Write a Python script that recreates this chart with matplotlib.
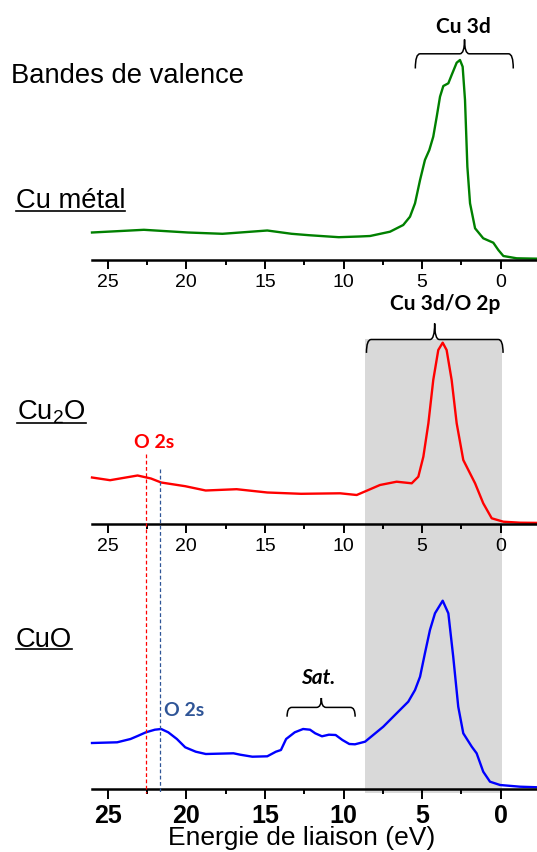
import matplotlib.pyplot as plt
import matplotlib.transforms as mtransforms
from matplotlib.lines import Line2D
from matplotlib.patches import PathPatch, Rectangle
from matplotlib.path import Path

W, H, DPI = 537, 852, 100

# binding energy (eV) / intensity (a.u.)
cu_energy = [26.0, 22.7, 19.9, 17.7, 14.85, 13.3, 12.2, 10.3, 9.0, 8.31, 7.04, 6.2,
             5.77, 5.45, 5.13, 4.82, 4.54, 4.29, 4.07, 3.86, 3.65, 3.33, 3.12, 2.8,
             2.59, 2.42, 2.27, 2.12, 1.95, 1.63, 1.11, 0.47, 0.15, -0.17, -1.02, -2.4]
cu_counts = [27, 29.7, 27, 25.7, 29, 25.7, 24.3, 22.3, 23, 23.5, 27.8, 34.5,
             42.8, 56.2, 79.5, 99.5, 109.5, 122.8, 142.8, 162.8, 173.5, 176.2, 184.5, 196.8,
             199.5, 192.8, 159.5, 92.8, 56.2, 31.2, 21.2, 16.8, 9.5, 3.5, 1.2, 0.8]

cu2o_energy = [26.0, 24.85, 23.1, 22.25, 21.6, 20.07, 18.77, 16.8, 14.85, 12.7, 10.22,
               9.16, 8.52, 7.68, 6.62, 5.66, 5.24, 4.92, 4.6, 4.29, 3.97, 3.69, 3.44,
               3.12, 2.8, 2.38, 1.63, 1.11, 0.57, -0.17, -1.23, -2.4]
cu2o_counts = [46, 43.3, 48, 45, 41, 37.3, 33, 34.3, 31, 29.7, 30.2,
               28.5, 32.8, 38.5, 41.8, 40.2, 46.8, 66.8, 100.2, 143.5, 173.5, 180.8, 173.5,
               143.5, 100.2, 63.5, 40.2, 20.2, 5.2, 1.8, 0.8, 0.6]

cuo_energy = [26.0, 24.4, 23.55, 23.1, 22.57, 22.0, 21.6, 21.15, 20.6, 20.07, 19.4,
              18.76, 17.0, 16.57, 15.8, 14.85, 14.3, 13.98, 13.65, 13.1, 12.57, 12.13,
              11.8, 11.37, 10.93, 10.5, 10.07, 9.63, 9.27, 8.63, 7.47, 6.62, 5.88, 5.45,
              5.13, 4.82, 4.5, 4.18, 3.69, 3.33, 3.02, 2.7, 2.38, 1.84, 1.53, 1.11,
              0.68, 0.04, -1.23, -2.4]
cuo_counts = [46, 46.7, 50, 53, 56.7, 59.3, 60, 56.7, 50, 41.7, 37.3,
              35, 35.7, 34.3, 32.3, 32.7, 37.3, 39, 50, 56.7, 60, 59.3,
              55.7, 52.7, 54.3, 54, 49, 45, 44.7, 47.3, 62.3, 75.7, 87.3, 99,
              112.3, 135.7, 159, 175.7, 188.3, 175.7, 132.3, 82.3, 55.7, 42.3, 35.7, 17.3,
              7.3, 4, 2.3, 1.7]

tick_major = [25, 20, 15, 10, 5, 0]
tick_minor = [22.5, 17.5, 12.5, 7.5, 2.5]
tick_labels = ["25", "20", "15", "10", "5", "0"]

shade_range = (8.62, -0.1)
o2s_cu2o = 22.57
o2s_cuo = 21.68

XLIM = (26.0, -2.31)
YMAX = 230

plt.rcParams["font.family"] = ["Liberation Sans", "DejaVu Sans"]
plt.rcParams["mathtext.default"] = "regular"
ANNOT = ["Lato", "DejaVu Sans"]
LABEL_SIZE = 19.7

fig = plt.figure(figsize=(W / DPI, H / DPI), dpi=DPI)


def fx(px):
    return px / W


def fy(py):
    return 1 - py / H


def make_axes(bottom_px, big=False):
    left = 92.0
    ax = fig.add_axes([fx(left), fy(bottom_px), (W - left) / W, YMAX / H])
    ax.set_xlim(*XLIM)
    ax.set_ylim(0, YMAX)
    ax.patch.set_visible(False)
    for side in ("top", "left", "right"):
        ax.spines[side].set_visible(False)
    ax.spines["bottom"].set_linewidth(1.8)
    ax.set_yticks([])
    ax.set_xticks(tick_major)
    ax.set_xticklabels(tick_labels)
    ax.set_xticks(tick_minor, minor=True)
    if big:
        ax.tick_params(axis="x", which="major", length=7.5, width=1.4, pad=3.0, labelsize=18)
        for lab in ax.get_xticklabels():
            lab.set_fontweight("bold")
    else:
        ax.tick_params(axis="x", which="major", length=6.5, width=1.4, pad=4, labelsize=14)
    ax.tick_params(axis="x", which="minor", length=3.5, width=1.4)
    return ax


def brace(ax, x0, x1, xc, y_line, y_end, y_tip, dx=0.3):
    verts = [(x0, y_end), (x0, y_line), (x0 - dx, y_line),
             (xc + dx, y_line), (xc, y_line), (xc, y_tip),
             (xc, y_line), (xc - dx, y_line),
             (x1 + dx, y_line), (x1, y_line), (x1, y_end)]
    codes = [Path.MOVETO, Path.CURVE3, Path.CURVE3,
             Path.LINETO, Path.CURVE3, Path.CURVE3,
             Path.CURVE3, Path.CURVE3,
             Path.LINETO, Path.CURVE3, Path.CURVE3]
    ax.add_patch(PathPatch(Path(verts, codes), fill=False, lw=1.1, ec="black",
                           clip_on=False))


ax1 = make_axes(259.5)
ax2 = make_axes(523.5)
ax3 = make_axes(789.0, big=True)

ax1.plot(cu_energy, cu_counts, color="#008000", lw=1.7, clip_on=False)
ax2.plot(cu2o_energy, cu2o_counts, color="#FF0000", lw=1.7, clip_on=False)
ax3.plot(cuo_energy, cuo_counts, color="#0000FF", lw=1.7, clip_on=False)

# grey band shared by the Cu2O and CuO panels
blend = mtransforms.blended_transform_factory(ax3.transData, fig.transFigure)
fig.add_artist(Rectangle((shade_range[1], fy(792.7)), shade_range[0] - shade_range[1],
                         fy(339.3) - fy(792.7), transform=blend, color="#D9D9D9",
                         lw=0, zorder=-1))

fig.add_artist(Line2D([o2s_cu2o, o2s_cu2o], [fy(454.3), fy(793)], transform=blend,
                      color="#FF0000", lw=0.9, ls=(0, (3, 2))))
fig.add_artist(Line2D([o2s_cuo, o2s_cuo], [fy(469), fy(793)], transform=blend,
                      color="#2F5597", lw=0.9, ls=(0, (3, 2))))

brace(ax1, 5.43, -0.80, 2.30, 205.7, 191, 220)
ax1.text(2.35, 226.7, "Cu 3d", family=ANNOT, weight="bold", fontsize=15,
         ha="center", va="baseline")
brace(ax2, 8.54, -0.15, 4.2, 184, 170.6, 200)
ax2.text(3.5, 213.3, "Cu 3d/O 2p", family=ANNOT, weight="bold", fontsize=15,
         ha="center", va="baseline")
brace(ax3, 13.59, 9.26, 11.41, 81.6, 72.3, 91)
ax3.text(11.59, 105, "Sat.", family=ANNOT, weight="bold", style="italic", fontsize=15,
         ha="center", va="baseline")
ax2.text(22.03, 76, "O 2s", family=ANNOT, weight="bold", fontsize=14, color="#FF0000",
         ha="center", va="baseline")
ax3.text(21.45, 73.3, "O 2s", family=ANNOT, weight="bold", fontsize=14, color="#2F5597",
         ha="left", va="baseline")

fig.text(fx(11), fy(83.3), "Bandes de valence", fontsize=LABEL_SIZE, va="baseline")
names = [
    (fig.text(fx(15.5), fy(208.3), "Cu métal", fontsize=LABEL_SIZE, va="baseline"), 210.7),
    (fig.text(fx(17), fy(420), "Cu$_2$O", fontsize=LABEL_SIZE, va="baseline"), 423.0),
    (fig.text(fx(15.5), fy(646.7), "CuO", fontsize=LABEL_SIZE, va="baseline"), 649.0),
]
fig.text(fx(301.7), fy(845.5), "Energie de liaison (eV)", fontsize=19, ha="center",
         va="baseline")

# underline the sample names
fig.canvas.draw()
renderer = fig.canvas.get_renderer()
for txt, y_px in names:
    bb = txt.get_window_extent(renderer)
    fig.add_artist(Line2D([bb.x0 / W, bb.x1 / W], [fy(y_px), fy(y_px)],
                          transform=fig.transFigure, color="black", lw=1.2))

fig.savefig("out.png", dpi=DPI)
